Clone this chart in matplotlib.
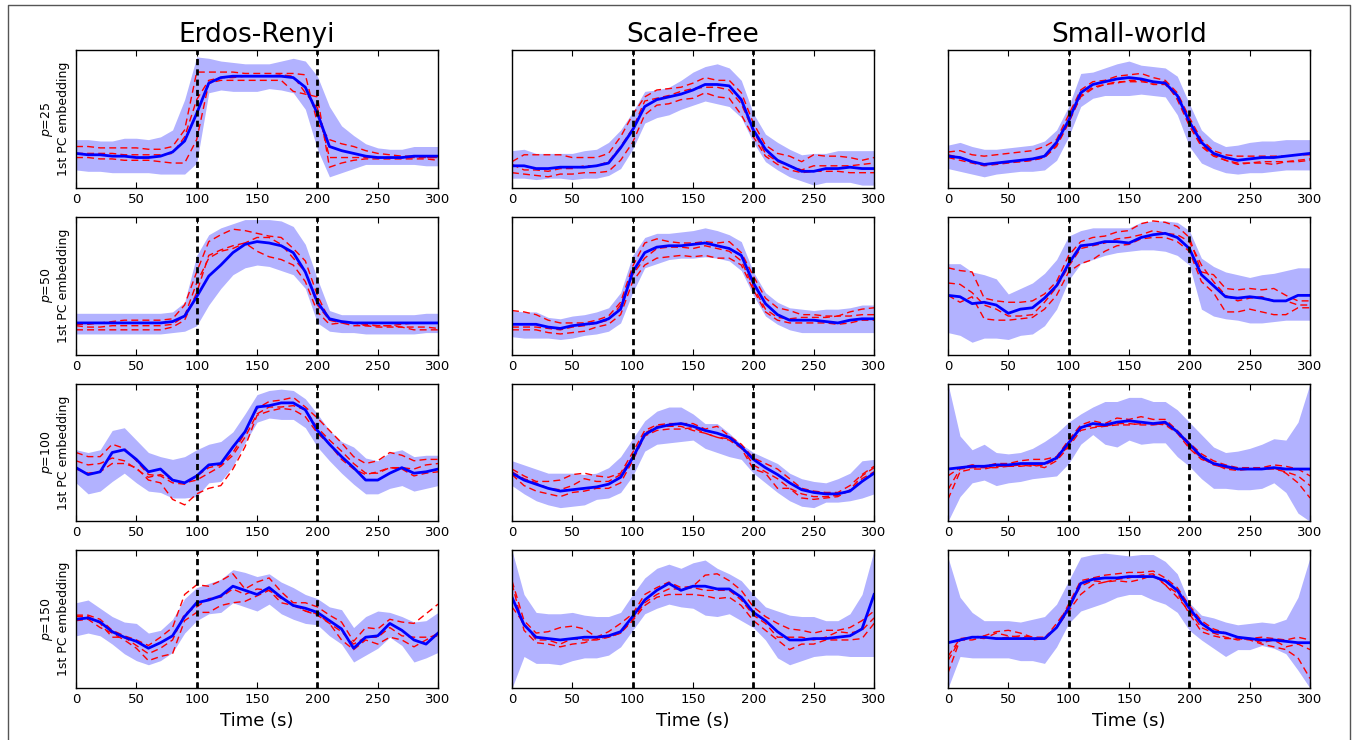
import matplotlib
matplotlib.use("Agg")
import matplotlib.pyplot as plt
from matplotlib.lines import Line2D

# time axis in seconds, one value every 10 s
time = list(range(0, 301, 10))

# Erdos-Renyi, p=25 / 50 / 100 / 150 (values in % of the panel height)
er25_mean = [25, 24, 24, 23, 23, 22, 22, 23, 26, 34, 54, 76, 80, 81, 81, 81, 81, 81, 80, 73, 54, 30, 27, 25, 23, 22, 22, 22, 23, 23, 23]
er25_hi = [35, 35, 34, 34, 36, 36, 35, 37, 42, 64, 95, 94, 92, 91, 90, 90, 90, 92, 94, 92, 81, 59, 45, 38, 32, 29, 28, 28, 30, 30, 30]
er25_lo = [13, 12, 12, 11, 11, 11, 11, 10, 10, 10, 18, 69, 71, 70, 70, 70, 72, 71, 69, 57, 28, 8, 11, 14, 17, 17, 17, 17, 17, 16, 16]
er25_red = [
    [30, 30, 29, 29, 29, 29, 28, 28, 30, 42, 84, 84, 84, 84, 83, 83, 83, 83, 83, 82, 47, 35, 32, 30, 27, 25, 24, 23, 23, 22, 22],
    [25, 25, 25, 25, 24, 24, 24, 24, 25, 37, 64, 78, 80, 80, 81, 81, 81, 82, 81, 69, 58, 22, 22, 22, 22, 22, 22, 22, 22, 22, 22],
    [22, 22, 21, 21, 20, 20, 20, 19, 18, 18, 35, 76, 78, 78, 78, 78, 78, 78, 70, 68, 66, 15, 18, 20, 21, 21, 21, 21, 21, 21, 20],
]

er50_mean = [23, 23, 23, 23, 23, 23, 23, 23, 24, 28, 42, 57, 65, 74, 80, 82, 81, 79, 74, 60, 38, 26, 24, 23, 23, 23, 23, 23, 23, 23, 23]
er50_hi = [30, 30, 30, 30, 30, 30, 30, 30, 31, 38, 72, 87, 92, 95, 98, 98, 98, 97, 93, 80, 55, 32, 29, 29, 29, 29, 29, 29, 29, 30, 30]
er50_lo = [15, 15, 15, 15, 15, 15, 15, 15, 16, 17, 21, 36, 48, 58, 63, 65, 64, 61, 58, 48, 23, 17, 16, 16, 15, 15, 15, 15, 15, 16, 16]
er50_red = [
    [22, 22, 23, 24, 25, 25, 25, 25, 26, 36, 60, 82, 87, 91, 90, 88, 86, 85, 77, 68, 43, 25, 24, 23, 22, 21, 21, 22, 23, 23, 23],
    [21, 20, 20, 21, 21, 21, 21, 21, 22, 28, 52, 70, 75, 77, 81, 85, 85, 80, 70, 60, 36, 25, 23, 23, 21, 21, 21, 20, 20, 20, 19],
    [18, 18, 18, 18, 18, 18, 18, 18, 20, 25, 45, 72, 76, 79, 81, 75, 71, 69, 65, 53, 31, 22, 23, 21, 21, 20, 20, 20, 18, 18, 18],
]

er100_mean = [39, 34, 36, 50, 52, 45, 36, 38, 30, 28, 33, 41, 42, 54, 65, 83, 84, 86, 86, 81, 66, 56, 47, 39, 30, 30, 35, 39, 35, 36, 38]
er100_hi = [52, 50, 52, 66, 68, 59, 50, 47, 45, 47, 52, 56, 58, 65, 78, 92, 95, 96, 95, 89, 78, 66, 58, 54, 46, 44, 50, 52, 47, 48, 48]
er100_lo = [28, 20, 22, 29, 35, 28, 22, 21, 17, 17, 18, 28, 29, 40, 57, 72, 75, 74, 74, 68, 54, 44, 35, 27, 20, 20, 24, 26, 22, 24, 26]
er100_red = [
    [50, 47, 47, 56, 53, 44, 34, 33, 28, 27, 33, 39, 41, 50, 64, 82, 87, 88, 90, 83, 75, 66, 57, 47, 42, 44, 50, 48, 44, 45, 45],
    [44, 41, 42, 46, 44, 38, 32, 34, 30, 28, 30, 35, 40, 48, 61, 78, 83, 83, 84, 81, 68, 59, 51, 42, 35, 35, 39, 39, 38, 41, 42],
    [38, 35, 36, 42, 42, 39, 30, 28, 16, 12, 20, 24, 26, 38, 54, 77, 80, 82, 81, 76, 64, 56, 45, 38, 34, 36, 39, 38, 33, 35, 36],
]

er150_mean = [50, 51, 48, 41, 37, 34, 29, 33, 38, 52, 62, 64, 67, 74, 71, 68, 73, 66, 60, 58, 55, 49, 43, 29, 37, 38, 47, 42, 35, 32, 40]
er150_hi = [62, 64, 58, 52, 48, 47, 40, 42, 50, 65, 73, 76, 79, 86, 84, 81, 83, 77, 73, 68, 65, 59, 57, 44, 52, 56, 55, 52, 48, 49, 55]
er150_lo = [38, 40, 38, 32, 25, 20, 17, 20, 26, 40, 49, 54, 55, 62, 59, 56, 61, 54, 50, 47, 46, 38, 32, 19, 24, 29, 37, 31, 19, 22, 26]
er150_red = [
    [53, 53, 50, 42, 38, 35, 31, 37, 44, 68, 75, 74, 78, 83, 72, 77, 80, 70, 62, 62, 59, 53, 48, 34, 44, 43, 50, 48, 47, 54, 61],
    [52, 52, 47, 37, 37, 31, 25, 29, 35, 54, 59, 65, 66, 72, 68, 72, 71, 65, 61, 56, 53, 47, 41, 32, 37, 37, 44, 38, 37, 37, 38],
    [49, 50, 44, 40, 35, 29, 20, 23, 25, 49, 55, 55, 60, 62, 63, 67, 71, 62, 60, 56, 54, 47, 35, 28, 35, 32, 37, 35, 30, 35, 40],
]

# Scale-free
sf25_mean = [16, 16, 14, 14, 15, 15, 15, 16, 18, 29, 42, 59, 64, 66, 68, 71, 75, 75, 74, 64, 42, 28, 20, 16, 12, 12, 14, 14, 15, 14, 14]
sf25_hi = [27, 28, 25, 25, 25, 25, 27, 28, 33, 42, 55, 70, 71, 73, 78, 84, 88, 90, 87, 78, 54, 39, 33, 28, 24, 25, 25, 27, 27, 27, 27]
sf25_lo = [7, 7, 6, 7, 7, 6, 7, 7, 9, 14, 28, 47, 51, 53, 57, 60, 63, 61, 59, 51, 33, 19, 13, 8, 5, 2, 4, 4, 4, 2, 2]
sf25_red = [
    [19, 24, 24, 24, 24, 22, 22, 22, 25, 37, 53, 66, 71, 72, 73, 76, 80, 78, 78, 69, 47, 31, 25, 23, 19, 24, 23, 23, 22, 20, 22],
    [17, 13, 13, 12, 14, 14, 16, 16, 19, 30, 43, 63, 65, 67, 70, 72, 73, 73, 71, 61, 41, 25, 19, 16, 13, 16, 16, 16, 16, 17, 18],
    [11, 10, 9, 8, 10, 10, 11, 11, 12, 20, 33, 53, 60, 61, 64, 65, 69, 66, 65, 53, 37, 23, 17, 13, 11, 12, 12, 12, 11, 11, 11],
]

sf50_mean = [22, 22, 22, 20, 19, 21, 22, 23, 26, 33, 60, 74, 78, 79, 79, 80, 81, 79, 77, 72, 52, 37, 29, 25, 25, 25, 24, 23, 25, 26, 26]
sf50_hi = [32, 31, 31, 27, 26, 28, 29, 31, 34, 45, 72, 85, 88, 88, 89, 90, 92, 90, 87, 82, 60, 45, 38, 34, 33, 32, 33, 33, 34, 36, 36]
sf50_lo = [13, 12, 12, 12, 11, 12, 14, 15, 17, 23, 45, 63, 66, 69, 70, 70, 71, 70, 68, 61, 43, 28, 22, 18, 16, 16, 16, 16, 16, 16, 16]
sf50_red = [
    [32, 31, 29, 25, 23, 23, 23, 25, 28, 38, 64, 81, 84, 82, 81, 81, 82, 81, 82, 74, 57, 41, 34, 32, 29, 29, 28, 28, 31, 33, 34],
    [20, 20, 20, 19, 18, 20, 21, 23, 25, 36, 58, 70, 77, 78, 78, 77, 79, 77, 75, 68, 49, 33, 27, 26, 27, 27, 27, 28, 28, 29, 29],
    [18, 18, 18, 16, 15, 16, 17, 20, 22, 29, 53, 65, 70, 71, 72, 71, 72, 70, 70, 65, 47, 31, 25, 23, 23, 23, 23, 22, 23, 25, 25],
]

sf100_mean = [35, 30, 27, 24, 22, 23, 24, 25, 27, 32, 46, 63, 68, 70, 71, 69, 66, 64, 61, 54, 45, 39, 34, 28, 23, 21, 20, 20, 22, 29, 35]
sf100_hi = [44, 41, 38, 35, 35, 35, 34, 35, 39, 47, 60, 73, 80, 83, 83, 78, 71, 71, 64, 56, 50, 46, 42, 35, 31, 29, 28, 31, 35, 44, 45]
sf100_lo = [26, 20, 15, 12, 10, 11, 12, 16, 17, 21, 33, 51, 56, 57, 58, 59, 53, 50, 47, 45, 35, 28, 21, 15, 11, 10, 14, 14, 15, 17, 20]
sf100_red = [
    [38, 33, 29, 29, 30, 34, 35, 33, 32, 35, 50, 66, 70, 71, 71, 71, 67, 69, 62, 56, 46, 42, 38, 31, 24, 22, 21, 21, 26, 34, 40],
    [36, 31, 28, 24, 23, 26, 31, 29, 29, 34, 47, 64, 69, 69, 69, 66, 64, 61, 60, 54, 41, 36, 31, 24, 20, 18, 18, 19, 22, 31, 36],
    [34, 26, 22, 20, 18, 21, 22, 24, 24, 28, 44, 62, 66, 67, 67, 68, 64, 61, 59, 53, 38, 35, 24, 24, 17, 16, 17, 18, 23, 33, 39],
]

sf150_mean = [66, 46, 37, 36, 35, 36, 37, 37, 38, 41, 52, 64, 71, 76, 71, 74, 74, 72, 72, 66, 55, 49, 41, 35, 35, 36, 36, 37, 38, 43, 68]
sf150_hi = [100, 68, 55, 54, 54, 55, 53, 52, 52, 55, 68, 80, 87, 90, 87, 91, 93, 87, 83, 78, 68, 59, 56, 53, 52, 52, 49, 49, 54, 68, 100]
sf150_lo = [0, 23, 18, 18, 17, 20, 22, 22, 24, 30, 42, 54, 58, 61, 59, 58, 53, 52, 54, 49, 44, 35, 22, 17, 20, 23, 24, 24, 23, 23, 23]
sf150_red = [
    [78, 49, 40, 41, 44, 45, 43, 37, 41, 47, 54, 68, 73, 77, 73, 74, 82, 83, 78, 71, 59, 52, 47, 43, 42, 40, 42, 42, 44, 49, 56],
    [59, 47, 35, 35, 32, 36, 35, 35, 37, 40, 50, 62, 68, 72, 72, 73, 71, 71, 71, 64, 53, 47, 37, 37, 37, 35, 37, 41, 40, 42, 51],
    [76, 42, 33, 32, 30, 32, 33, 36, 37, 40, 49, 60, 66, 68, 68, 68, 67, 65, 66, 60, 49, 42, 35, 28, 32, 32, 35, 35, 35, 36, 47],
]

# Small-world
sw25_mean = [23, 22, 19, 17, 18, 19, 20, 21, 23, 33, 49, 69, 75, 77, 79, 80, 79, 77, 76, 67, 48, 33, 25, 22, 20, 21, 22, 22, 23, 24, 25]
sw25_hi = [31, 33, 30, 28, 28, 29, 30, 31, 34, 42, 59, 83, 84, 87, 90, 92, 89, 88, 87, 81, 61, 42, 34, 30, 31, 33, 34, 34, 35, 35, 35]
sw25_lo = [14, 12, 10, 8, 10, 11, 12, 12, 13, 20, 37, 59, 65, 67, 67, 67, 68, 67, 66, 53, 30, 18, 14, 11, 10, 11, 11, 12, 13, 13, 13]
sw25_red = [
    [26, 27, 24, 23, 24, 25, 26, 27, 30, 35, 53, 71, 77, 78, 81, 82, 83, 80, 78, 69, 51, 35, 27, 24, 23, 23, 23, 23, 23, 24, 24],
    [24, 22, 19, 17, 18, 19, 19, 20, 22, 31, 48, 66, 72, 75, 77, 77, 77, 76, 77, 64, 45, 30, 23, 20, 18, 18, 19, 19, 19, 20, 21],
    [22, 20, 18, 16, 17, 18, 19, 20, 22, 30, 47, 67, 73, 75, 76, 78, 78, 75, 75, 66, 47, 31, 24, 20, 17, 18, 18, 17, 19, 19, 20],
]

sw50_mean = [43, 42, 37, 38, 36, 30, 33, 34, 41, 50, 66, 79, 80, 82, 82, 81, 85, 87, 88, 85, 77, 58, 50, 42, 41, 42, 41, 39, 39, 43, 43]
sw50_hi = [66, 66, 60, 58, 55, 44, 48, 52, 59, 69, 86, 90, 92, 92, 92, 92, 96, 97, 97, 96, 90, 70, 64, 60, 58, 56, 58, 59, 61, 63, 63]
sw50_lo = [16, 14, 9, 12, 12, 11, 14, 15, 21, 33, 54, 66, 69, 72, 74, 75, 76, 76, 75, 72, 65, 33, 28, 26, 25, 23, 23, 24, 25, 25, 25]
sw50_red = [
    [63, 61, 60, 41, 39, 38, 38, 39, 44, 53, 72, 82, 85, 86, 89, 90, 95, 97, 96, 93, 85, 60, 58, 48, 47, 48, 47, 48, 43, 39, 39],
    [52, 51, 45, 36, 33, 28, 28, 29, 38, 49, 64, 77, 79, 81, 84, 85, 87, 90, 88, 87, 82, 65, 53, 43, 39, 41, 42, 39, 39, 36, 36],
    [43, 38, 42, 26, 25, 25, 26, 27, 33, 43, 60, 66, 69, 75, 79, 80, 84, 85, 85, 82, 75, 53, 45, 31, 31, 33, 31, 29, 29, 34, 34],
]

sw100_mean = [38, 39, 40, 40, 41, 41, 42, 42, 42, 46, 57, 68, 71, 70, 72, 73, 72, 71, 72, 65, 56, 47, 42, 40, 38, 38, 38, 39, 38, 38, 38]
sw100_hi = [100, 62, 52, 56, 50, 49, 50, 53, 58, 64, 72, 78, 83, 87, 87, 90, 90, 87, 87, 81, 72, 63, 54, 50, 51, 53, 56, 60, 59, 72, 100]
sw100_lo = [0, 18, 28, 30, 26, 28, 29, 31, 32, 33, 42, 56, 63, 56, 54, 59, 56, 57, 57, 47, 40, 31, 24, 24, 23, 23, 24, 28, 21, 6, 0]
sw100_red = [
    [33, 39, 41, 40, 42, 42, 44, 45, 45, 47, 59, 70, 73, 71, 75, 74, 76, 74, 74, 66, 57, 49, 44, 41, 39, 39, 39, 41, 40, 38, 33],
    [23, 38, 39, 39, 39, 40, 41, 40, 41, 45, 55, 69, 69, 69, 71, 71, 70, 70, 71, 65, 54, 46, 41, 39, 38, 38, 38, 38, 36, 33, 26],
    [16, 36, 38, 38, 40, 40, 40, 41, 39, 44, 54, 66, 68, 69, 70, 70, 71, 71, 70, 64, 53, 45, 42, 38, 37, 38, 38, 39, 35, 28, 17],
]

sw150_mean = [33, 35, 37, 37, 36, 36, 36, 36, 36, 44, 58, 76, 79, 80, 80, 81, 81, 81, 78, 71, 58, 47, 41, 40, 37, 36, 35, 35, 34, 33, 33]
sw150_hi = [95, 66, 55, 49, 49, 49, 48, 50, 52, 61, 78, 95, 97, 98, 97, 96, 97, 97, 92, 83, 62, 53, 51, 48, 46, 47, 48, 47, 50, 66, 95]
sw150_lo = [0, 23, 22, 22, 22, 22, 20, 20, 18, 30, 47, 56, 59, 62, 66, 68, 68, 64, 61, 55, 42, 35, 29, 23, 28, 28, 31, 29, 25, 13, 0]
sw150_red = [
    [23, 36, 37, 38, 41, 42, 40, 37, 37, 44, 61, 78, 80, 82, 83, 84, 84, 85, 80, 73, 60, 49, 43, 40, 37, 36, 37, 36, 35, 37, 35],
    [20, 35, 37, 36, 40, 38, 37, 35, 36, 47, 59, 74, 78, 77, 79, 80, 82, 83, 75, 66, 56, 44, 40, 37, 35, 36, 33, 35, 30, 32, 28],
    [11, 35, 35, 37, 36, 37, 38, 37, 35, 44, 56, 68, 75, 77, 78, 77, 79, 82, 75, 69, 54, 41, 38, 36, 36, 35, 32, 30, 28, 22, 7],
]

titles = ["Erdos-Renyi", "Scale-free", "Small-world"]
sizes = [25, 50, 100, 150]

panels = [
    [(er25_mean, er25_lo, er25_hi, er25_red), (sf25_mean, sf25_lo, sf25_hi, sf25_red), (sw25_mean, sw25_lo, sw25_hi, sw25_red)],
    [(er50_mean, er50_lo, er50_hi, er50_red), (sf50_mean, sf50_lo, sf50_hi, sf50_red), (sw50_mean, sw50_lo, sw50_hi, sw50_red)],
    [(er100_mean, er100_lo, er100_hi, er100_red), (sf100_mean, sf100_lo, sf100_hi, sf100_red), (sw100_mean, sw100_lo, sw100_hi, sw100_red)],
    [(er150_mean, er150_lo, er150_hi, er150_red), (sf150_mean, sf150_lo, sf150_hi, sf150_red), (sw150_mean, sw150_lo, sw150_hi, sw150_red)],
]

fig, axes = plt.subplots(4, 3, figsize=(13.57, 7.4), dpi=100)
fig.subplots_adjust(left=0.056, right=0.9654, top=0.9324, bottom=0.070, wspace=0.204, hspace=0.21)

for i in range(4):
    for j in range(3):
        ax = axes[i, j]
        mean, lo, hi, reds = panels[i][j]
        ax.fill_between(time, lo, hi, color="b", alpha=0.3, linewidth=0)
        for r in reds:
            ax.plot(time, r, "r--", lw=1, dashes=(5, 3))
        ax.plot(time, mean, "b-", lw=2)
        for t in (100, 200):
            ax.axvline(t, color="k", ls="--", lw=2, dashes=(2.2, 1.5))
        ax.set_xlim(0, 300)
        ax.set_ylim(0, 100)
        ax.set_yticks([])
        ax.set_xticks(range(0, 301, 50))
        ax.tick_params(axis="x", direction="in", top=True, labelsize=9.5, length=4)
        for s in ax.spines.values():
            s.set_linewidth(1)
        if i == 0:
            ax.set_title(titles[j], fontsize=19)
        if i == 3:
            ax.set_xlabel("Time (s)", fontsize=13)
        if j == 0:
            ax.set_ylabel("$p$=%d\n1st PC embedding" % sizes[i], fontsize=9)

# thin frame around the figure
fig.add_artist(Line2D([8 / 1357, 8 / 1357, 1350 / 1357, 1350 / 1357],
                      [0, 1 - 5 / 740, 1 - 5 / 740, 0],
                      transform=fig.transFigure, color="#555555", lw=1))

fig.savefig("out.png", dpi=100)
